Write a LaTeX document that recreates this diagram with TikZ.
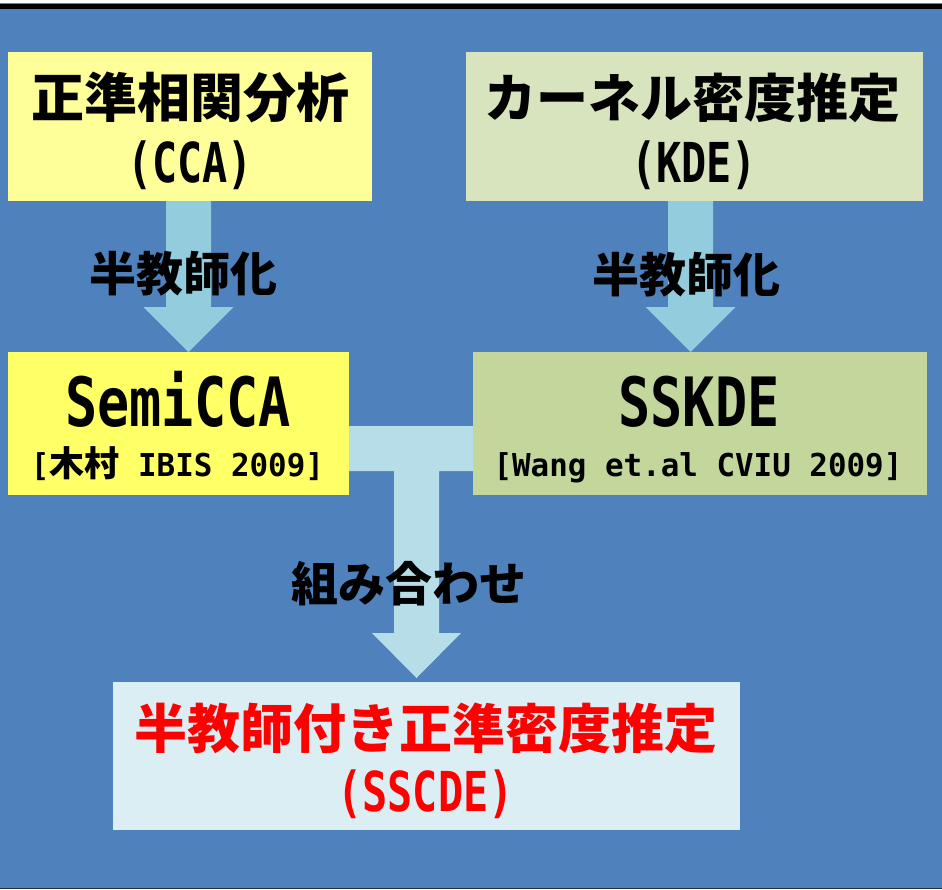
\documentclass[tikz,border=0pt]{standalone}
\usepackage{fontspec}
\setmainfont{Noto Sans CJK JP}
\newfontfamily\latbig{DejaVu Sans Mono}[FakeStretch=0.786]
\newfontfamily\latmid{DejaVu Sans Mono}[FakeStretch=0.76]
\newfontfamily\latref{DejaVu Sans Mono}[FakeStretch=0.98]
\usetikzlibrary{calc}
\definecolor{bgblue}{HTML}{4F81BD}
\definecolor{darknavy}{HTML}{1F2F4A}
\definecolor{boxA}{HTML}{FFFF99}
\definecolor{boxB}{HTML}{D7E4BD}
\definecolor{boxC}{HTML}{FFFF66}
\definecolor{boxD}{HTML}{C3D69B}
\definecolor{boxE}{HTML}{DBEEF4}
\definecolor{arrA}{HTML}{93CDDD}
\definecolor{arrB}{HTML}{B7DEE8}
\begin{document}
\begin{tikzpicture}[x=1pt,y=-1pt,
  box/.style={rectangle,draw=none,inner sep=0pt,outer sep=0pt},
  txt/.style={inner sep=0pt,outer sep=0pt},
  jpbig/.style={txt,font=\fontsize{53}{53}\selectfont\bfseries},
  jplab/.style={txt,font=\fontsize{47}{47}\selectfont\bfseries},
  latm/.style={txt,anchor=base,font=\fontsize{55}{55}\selectfont\latmid\bfseries},
  latb/.style={txt,anchor=base,font=\fontsize{68}{68}\selectfont\latbig\bfseries},
  latr/.style={txt,anchor=base,font=\fontsize{31.5}{31.5}\selectfont\latref\bfseries}]
\useasboundingbox (0,0) rectangle (942,889);
\fill[white] (0,0) rectangle (942,3);
\fill[gray] (0,3) rectangle (942,4);
\fill[black] (0,4) rectangle (942,9);
\fill[bgblue] (0,9) rectangle (942,888);
\fill[darknavy] (0,888) rectangle (942,889);

% boxes
\node[box,fill=boxA,minimum width=364pt,minimum height=149pt] (cca) at (190,126.5) {};
\node[box,fill=boxB,minimum width=457pt,minimum height=149pt] (kde) at (694.5,126.5) {};
\node[box,fill=boxC,minimum width=341pt,minimum height=143pt] (semi) at (178.5,423.5) {};
\node[box,fill=boxD,minimum width=454pt,minimum height=143pt] (sskde) at (700,423.5) {};
\node[box,fill=boxE,minimum width=627pt,minimum height=148pt] (sscde) at (426.5,756) {};

% left arrow
\coordinate (s1) at ($(cca.south)+(-1.5,0)$);
\coordinate (t1) at (s1 |- semi.north);
\fill[arrA] ($(s1)+(-22.5,0)$) -- ($(s1)+(22.5,0)$) -- ($(t1)+(22.5,-45)$) -- ($(t1)+(45,-45)$)
  -- (t1) -- ($(t1)+(-45,-45)$) -- ($(t1)+(-22.5,-45)$) -- cycle;
% right arrow
\coordinate (s2) at ($(kde.south)+(-4,0)$);
\coordinate (t2) at (s2 |- sskde.north);
\fill[arrA] ($(s2)+(-22.5,0)$) -- ($(s2)+(22.5,0)$) -- ($(t2)+(22.5,-45)$) -- ($(t2)+(45,-45)$)
  -- (t2) -- ($(t2)+(-45,-45)$) -- ($(t2)+(-22.5,-45)$) -- cycle;
% T connector
\coordinate (barL) at ($(semi.east)+(0,25)$);
\coordinate (barR) at (barL -| sskde.west);
\coordinate (t3) at ($(sscde.north)+(-10,-4)$);
\coordinate (j3) at (t3 |- barL);
\fill[arrB] ($(barL)+(0,-22.5)$) -- ($(barR)+(0,-22.5)$) -- ($(barR)+(0,22.5)$)
  -- ($(j3)+(22.5,22.5)$) -- ($(t3)+(22.5,-45)$) -- ($(t3)+(44.5,-45)$) -- (t3)
  -- ($(t3)+(-44.5,-45)$) -- ($(t3)+(-22.5,-45)$) -- ($(j3)+(-22.5,22.5)$)
  -- ($(barL)+(0,22.5)$) -- cycle;

% texts
\node[jpbig] (ccat) at (190,97.5) {正準相関分析};
\node[latm] (ccaa) at (190,182) {(CCA)};
\node[jpbig,font=\fontsize{52}{52}\selectfont\bfseries] (kdet) at (692.5,97.5) {カーネル密度推定};
\node[latm] (kdea) at (694,182) {(KDE)};
\node[latb] (semit) at (178,426) {SemiCCA};
\node[latr] (semir) at (177.5,476) {[{\fontspec{Noto Sans CJK JP}\fontsize{35}{35}\selectfont\bfseries 木村}{} IBIS 2009]};
\node[latb] (sskdet) at (699,426) {SSKDE};
\node[latr] (sskder) at (698,476) {[Wang et.al CVIU 2009]};
\node[jplab] (lab1) at (183,274) {半教師化};
\node[jplab] (lab2) at (686,275) {半教師化};
\node[jplab] (lab3) at (409,583.5) {組み合わせ};
\node[jpbig,text=red] (sscdet) at (426,728) {半教師付き正準密度推定};
\node[latm,text=red] (sscdea) at (425.5,811) {(SSCDE)};
\end{tikzpicture}
\end{document}
